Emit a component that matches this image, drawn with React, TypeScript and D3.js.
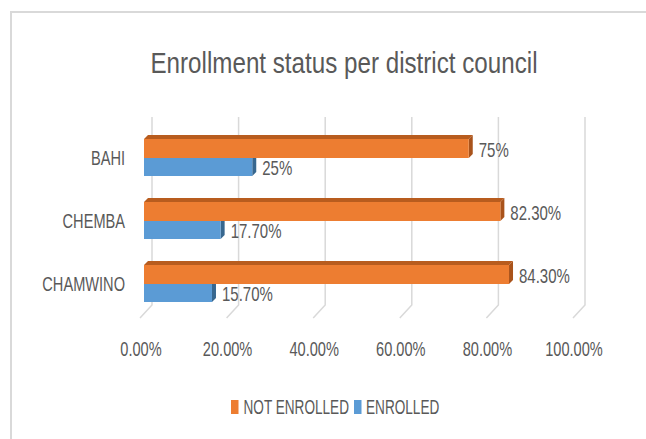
import React from "react";
import * as d3 from "d3";

const categories = ["BAHI", "CHEMBA", "CHAMWINO"];
const notEnrolled = [0.75, 0.823, 0.843];
const enrolled = [0.25, 0.177, 0.157];
const notEnrolledLabels = ["75%", "82.30%", "84.30%"];
const enrolledLabels = ["25%", "17.70%", "15.70%"];
const ticks = [0, 0.2, 0.4, 0.6, 0.8, 1.0];
const tickLabels = ["0.00%", "20.00%", "40.00%", "60.00%", "80.00%", "100.00%"];
const seriesNames = ["NOT ENROLLED", "ENROLLED"];

const FONT = "'Liberation Sans', Arial, sans-serif";
const W = 646, H = 439;
const TXT = "#595959";

function Txt({ x, y, anchor = "start", size = 19.5, sx = 0.69, children }: any) {
  return (
    <text
      transform={`translate(${x},${y}) scale(${sx},1)`}
      textAnchor={anchor}
      fontSize={size}
      fill={TXT}
    >
      {children}
    </text>
  );
}

export default function App() {
  const x = d3.scaleLinear().domain([0, 1]).range([144, 577]);
  const y = d3.scalePoint<string>().domain(categories).range([158, 284]);
  const dx = 4, dy = 4;
  const orange = { front: "#ED7D31", top: "#B85C1E", side: "#A9531B" };
  const blue = { front: "#5B9BD5", top: "#3F77A8", side: "#37678F" };

  const bar = (x0: number, x1: number, y0: number, y1: number, c: any, key: string) => (
    <g key={key}>
      <polygon points={`${x0},${y0} ${x0 + dx},${y0 - dy} ${x1 + dx},${y0 - dy} ${x1},${y0}`} fill={c.top} />
      <polygon points={`${x1},${y0} ${x1 + dx},${y0 - dy} ${x1 + dx},${y1 - dy} ${x1},${y1}`} fill={c.side} />
      <rect x={x0} y={y0} width={x1 - x0} height={y1 - y0} fill={c.front} />
    </g>
  );

  return (
    <svg width={W} height={H} style={{ position: "absolute", left: 0, top: 0, background: "#fff" }} fontFamily={FONT}>
      <rect x={0} y={0} width={W} height={H} fill="#fff" />
      <path d={`M11,${H + 5} L11,12 L${W + 5},12`} fill="none" stroke="#d9d9d9" strokeWidth={2} />
      <Txt x={344} y={73} anchor="middle" size={29.5} sx={0.82}>Enrollment status per district council</Txt>
      {ticks.map((t, i) => (
        <g key={"g" + i}>
          <path d={`M${x(t) + 8},117 L${x(t) + 8},305 L${x(t) - 4},318`} fill="none" stroke="#d9d9d9" strokeWidth={1.5} />
          <Txt x={x(t) - 3} y={356} anchor="middle" size={20} sx={0.73}>{tickLabels[i]}</Txt>
        </g>
      ))}
      {categories.map((c, i) => {
        const cy = y(c)!;
        return (
          <g key={c}>
            {bar(x(0), x(enrolled[i]), cy, cy + 18, blue, "b")}
            {bar(x(0), x(notEnrolled[i]), cy - 19, cy, orange, "o")}
            <Txt x={125} y={cy + 7} anchor="end" size={20} sx={0.73}>{c}</Txt>
            <Txt x={x(notEnrolled[i]) + dx + 6} y={cy - 1.5} size={20} sx={0.75}>{notEnrolledLabels[i]}</Txt>
            <Txt x={x(enrolled[i]) + dx + 6} y={cy + 17} size={20} sx={0.75}>{enrolledLabels[i]}</Txt>
          </g>
        );
      })}
      <rect x={231} y={400} width={7.5} height={14} fill={orange.front} />
      <Txt x={243.5} y={414} size={20} sx={0.68}>{seriesNames[0]}</Txt>
      <rect x={354} y={400} width={7.5} height={14} fill={blue.front} />
      <Txt x={366} y={414} size={20} sx={0.68}>{seriesNames[1]}</Txt>
    </svg>
  );
}
